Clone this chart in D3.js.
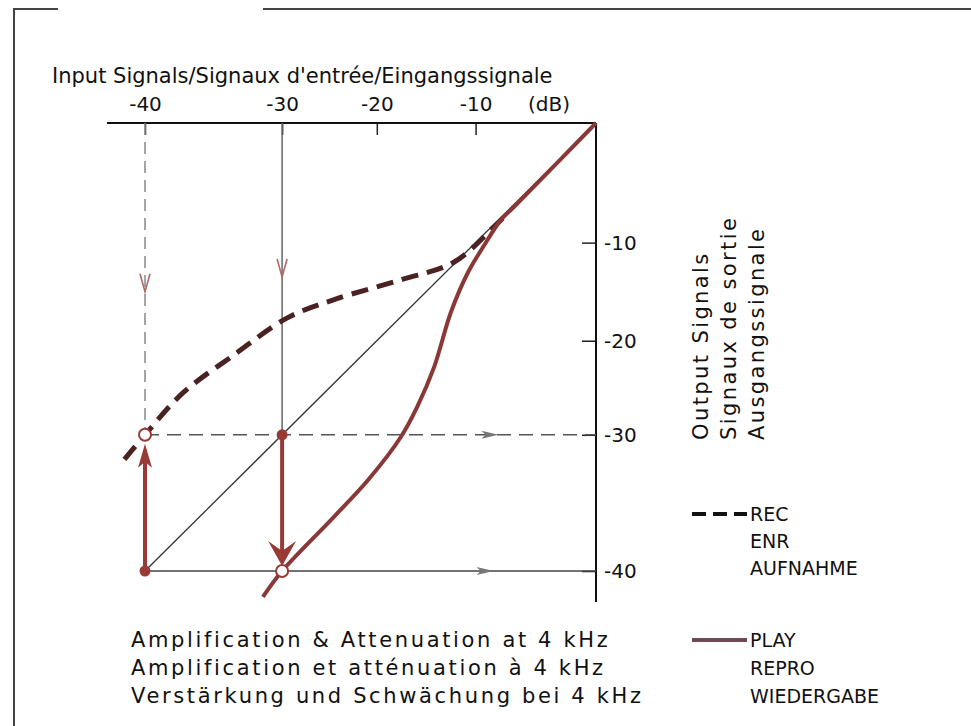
<!DOCTYPE html>
<html>
<head>
<meta charset="utf-8">
<script src="https://cdn.jsdelivr.net/npm/d3@7/dist/d3.min.js"></script>
<style>
  body { margin: 0; background: #fff; }
  text { font-family: "DejaVu Sans", "Liberation Sans", sans-serif; fill: #111; }
</style>
</head>
<body>
<script>
// canvas size
var w = 971;
var h = 726;

// ---- data (dB) ----
var xTicks = [-40, -30, -20, -10];
var yTicks = [-10, -20, -30, -40];
var dbStops = [-40, -30, -20, -10, 0];

// REC (dashed) curve: input -> output
var recIn  = [-41.5, -40, -37.2, -33.5, -29.5, -24.5, -17.6, -12.2, -8.5, -7.3];
var recOut = [-31.8, -30, -25.5, -21.5, -17.7, -15.8, -13.8, -12.0, -8.7, -7.5];

// PLAY (solid) curve: input -> output
var playIn  = [-31.4, -30, -24.5, -20.9, -17.6, -15.9, -14.2, -12.5, -10.8, -9.3, -7.9, -6.8, 0];
var playOut = [-41.9, -40, -36.0, -33.3, -30.2, -27.0, -22.8, -17.1, -13.1, -10.3, -8.1, -7.0, 0];

// example points [input, output]
var openPts = [[-40, -30], [-30, -40]];
var dotPts = [[-40, -40], [-30, -30]];

var titleText = "Input Signals/Signaux d'entrée/Eingangssignale";
var outputLabels = ["Output Signals", "Signaux de sortie", "Ausgangssignale"];
var recLabels = ["REC", "ENR", "AUFNAHME"];
var playLabels = ["PLAY", "REPRO", "WIEDERGABE"];
var noteLabels = [
  "Amplification & Attenuation at 4 kHz",
  "Amplification et atténuation à 4 kHz",
  "Verstärkung und Schwächung bei 4 kHz"
];

var red = "#9a3a37";

// ---- layout ----
// (don't call it "top", that's window.top)
var pLeft = 145, pRight = 596, pTop = 123, pBottom = 571;
// the printed scale is not evenly spaced
var stopFrac = [0, 0.304, 0.514, 0.733, 1];

var svg = d3.select("body")
  .append("svg")
  .attr("width", w)
  .attr("height", h);

var x = d3.scaleLinear()
  .domain(dbStops)
  .range(stopFrac.map(function(f) { return pLeft + f * (pRight - pLeft); }));
var y = d3.scaleLinear()
  .domain(dbStops)
  .range(stopFrac.map(function(f) { return pBottom - f * (pBottom - pTop); }));

// page frame
var frame = [[13, 9, 58, 9], [263, 9, 971, 9], [14, 9, 14, 726]];
svg.selectAll("line.frame")
  .data(frame).enter()
  .append("line")
  .attr("class", "frame")
  .attr("x1", function(d) { return d[0]; })
  .attr("y1", function(d) { return d[1]; })
  .attr("x2", function(d) { return d[2]; })
  .attr("y2", function(d) { return d[3]; })
  .style("stroke", "#444")
  .style("stroke-width", 2);

svg.append("text")
  .attr("x", 52)
  .attr("y", 83)
  .style("font-size", "21px")
  .text(titleText);

// axes
var topAxis = d3.axisTop(x)
  .tickValues(xTicks)
  .tickSize(-12)
  .tickPadding(12)
  .tickFormat(function(d) { return String(d); });
var gTop = svg.append("g")
  .attr("transform", "translate(0," + pTop + ")")
  .call(topAxis);

var rightAxis = d3.axisRight(y)
  .tickValues(yTicks)
  .tickSize(-14)
  .tickPadding(8)
  .tickFormat(function(d) { return String(d); });
var gRight = svg.append("g")
  .attr("transform", "translate(" + pRight + ",0)")
  .call(rightAxis);

[gTop, gRight].forEach(function(g) {
  g.select(".domain").remove();
  g.selectAll(".tick line").style("stroke", "#222").style("stroke-width", 1.5);
  g.selectAll(".tick text")
    .style("font-size", "20px")
    .style("font-family", "DejaVu Sans, sans-serif")
    .style("fill", "#111");
});

svg.append("line")
  .attr("x1", x(-40) - 38).attr("y1", y(0))
  .attr("x2", x(0)).attr("y2", y(0))
  .style("stroke", "#111").style("stroke-width", 2);
svg.append("line")
  .attr("x1", x(0)).attr("y1", y(0))
  .attr("x2", x(0)).attr("y2", y(-40) + 31)
  .style("stroke", "#111").style("stroke-width", 2);

svg.append("text")
  .attr("x", x(0) - 26)
  .attr("y", pTop - 12)
  .attr("text-anchor", "end")
  .style("font-size", "20px")
  .text("(dB)");

// guide lines
var guides = [
  {x1: -40, y1: 0, x2: -40, y2: -30, dash: "12,7", color: "#888"},
  {x1: -30, y1: 0, x2: -30, y2: -30, dash: null, color: "#666"},
  {x1: -40, y1: -30, x2: 0, y2: -30, dash: "14,8", color: "#555"},
  {x1: -40, y1: -40, x2: 0, y2: -40, dash: null, color: "#444"}
];
svg.selectAll("line.guide")
  .data(guides).enter()
  .append("line")
  .attr("class", "guide")
  .attr("x1", function(d) { return x(d.x1); })
  .attr("y1", function(d) { return y(d.y1); })
  .attr("x2", function(d) { return x(d.x2); })
  .attr("y2", function(d) { return y(d.y2); })
  .style("stroke", function(d) { return d.color; })
  .style("stroke-width", 1.5)
  .style("stroke-dasharray", function(d) { return d.dash; });

// small arrowheads on guide lines
var downChevrons = [[-40, -15], [-30, -13.5]];
svg.selectAll("path.chev")
  .data(downChevrons).enter()
  .append("path")
  .attr("class", "chev")
  .attr("d", function(d) {
    var cx = x(d[0]), cy = y(d[1]);
    return "M" + (cx - 5) + "," + (cy - 18) + "L" + cx + "," + cy + "L" + (cx + 5) + "," + (cy - 18);
  })
  .style("fill", "none")
  .style("stroke", "#b06a6a")
  .style("stroke-width", 1.6);

var rightHeads = [[-8.1, -30], [-8.5, -40]];
svg.selectAll("path.rhead")
  .data(rightHeads).enter()
  .append("path")
  .attr("class", "rhead")
  .attr("d", function(d) {
    var cx = x(d[0]), cy = y(d[1]);
    return "M" + cx + "," + cy + "L" + (cx - 17) + "," + (cy - 4) + "L" + (cx - 13) + "," + cy +
      "L" + (cx - 17) + "," + (cy + 4) + "Z";
  })
  .style("fill", "#777");

// unity diagonal
svg.append("line")
  .attr("x1", x(-40)).attr("y1", y(-40))
  .attr("x2", x(0)).attr("y2", y(0))
  .style("stroke", "#333")
  .style("stroke-width", 1.3);

var line = d3.line()
  .x(function(d) { return x(d[0]); })
  .y(function(d) { return y(d[1]); })
  .curve(d3.curveCatmullRom.alpha(0.5));

var recData = recIn.map(function(v, i) { return [v, recOut[i]]; });
var playData = playIn.map(function(v, i) { return [v, playOut[i]]; });

svg.append("path")
  .datum(recData)
  .attr("d", line)
  .style("fill", "none")
  .style("stroke", "#4a2222")
  .style("stroke-width", 5)
  .style("stroke-dasharray", "17,9");

svg.append("path")
  .datum(playData)
  .attr("d", line)
  .style("fill", "none")
  .style("stroke", "#8a3737")
  .style("stroke-width", 4);

// big red arrows: boost on record, cut on playback
svg.append("line")
  .attr("x1", x(-40)).attr("y1", y(-40))
  .attr("x2", x(-40)).attr("y2", y(-30) + 26)
  .style("stroke", red).style("stroke-width", 4);
svg.append("path")
  .attr("d", function() {
    var cx = x(-40), cy = y(-30) + 9;
    return "M" + cx + "," + cy + "L" + (cx - 7) + "," + (cy + 24) + "L" + cx + "," + (cy + 18) +
      "L" + (cx + 7) + "," + (cy + 24) + "Z";
  })
  .style("fill", red);

svg.append("line")
  .attr("x1", x(-30)).attr("y1", y(-30))
  .attr("x2", x(-30)).attr("y2", y(-40) - 20)
  .style("stroke", red).style("stroke-width", 4);
svg.append("path")
  .attr("d", function() {
    var cx = x(-30), cy = y(-40) - 5;
    return "M" + cx + "," + cy + "L" + (cx - 14) + "," + (cy - 25) + "L" + cx + "," + (cy - 15) +
      "L" + (cx + 14) + "," + (cy - 25) + "Z";
  })
  .style("fill", red);

// points
svg.selectAll("circle.open")
  .data(openPts).enter()
  .append("circle")
  .attr("class", "open")
  .attr("cx", function(d) { return x(d[0]); })
  .attr("cy", function(d) { return y(d[1]); })
  .attr("r", 6)
  .style("fill", "#fff")
  .style("stroke", red)
  .style("stroke-width", 2);

svg.selectAll("circle.dot")
  .data(dotPts).enter()
  .append("circle")
  .attr("class", "dot")
  .attr("cx", function(d) { return x(d[0]); })
  .attr("cy", function(d) { return y(d[1]); })
  .attr("r", 5.5)
  .style("fill", red);

// output axis title (rotated, three languages)
svg.selectAll("text.out")
  .data(outputLabels).enter()
  .append("text")
  .attr("class", "out")
  .attr("transform", function(d, i) {
    return "translate(" + (708 + i * 28) + ",440) rotate(-90)";
  })
  .style("font-size", "21px")
  .style("letter-spacing", "2.4px")
  .text(function(d) { return d; });

// legend
var legendX = 692, legendTextX = 750;
svg.append("line")
  .attr("x1", legendX).attr("y1", 514)
  .attr("x2", legendX + 55).attr("y2", 514)
  .style("stroke", "#111")
  .style("stroke-width", 4)
  .style("stroke-dasharray", "14,7");
svg.append("line")
  .attr("x1", legendX).attr("y1", 640)
  .attr("x2", legendX + 55).attr("y2", 640)
  .style("stroke", "#6e4a55")
  .style("stroke-width", 4);

svg.selectAll("text.rec")
  .data(recLabels).enter()
  .append("text")
  .attr("class", "rec")
  .attr("x", legendTextX)
  .attr("y", function(d, i) { return 521 + i * 27; })
  .style("font-size", "19px")
  .text(function(d) { return d; });

svg.selectAll("text.play")
  .data(playLabels).enter()
  .append("text")
  .attr("class", "play")
  .attr("x", legendTextX)
  .attr("y", function(d, i) { return 647 + i * 28; })
  .style("font-size", "19px")
  .text(function(d) { return d; });

svg.selectAll("text.note")
  .data(noteLabels).enter()
  .append("text")
  .attr("class", "note")
  .attr("x", 131)
  .attr("y", function(d, i) { return 647 + i * 28; })
  .style("font-size", "21px")
  .style("letter-spacing", "2.65px")
  .text(function(d) { return d; });
</script>
</body>
</html>
